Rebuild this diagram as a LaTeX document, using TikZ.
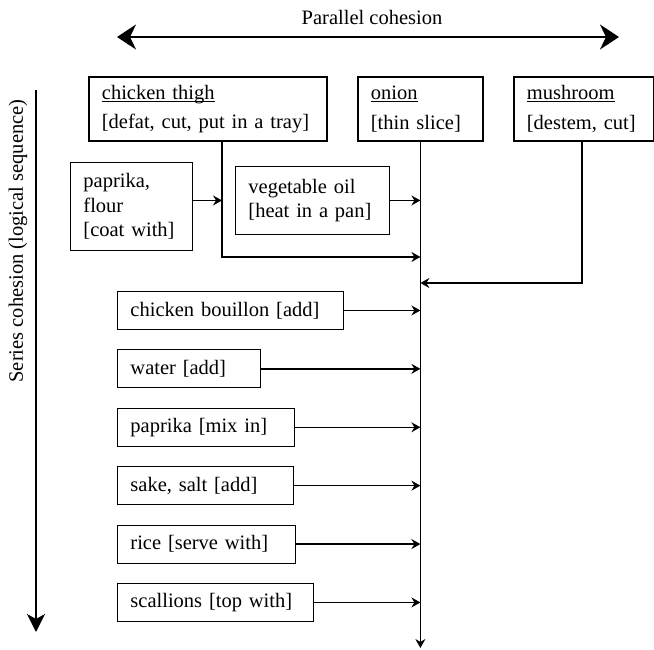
\documentclass[tikz,border=0pt]{standalone}
\usepackage{fontspec}
\setmainfont{Liberation Serif}
\usepackage{tikz}
\usetikzlibrary{arrows.meta, positioning}

\newcommand{\ingname}[1]{\setbox0\hbox{#1}\rlap{\rule[-2.6pt]{\wd0}{0.9pt}}\box0}

\begin{document}
\begin{tikzpicture}[
        x=1pt, y=-1pt,
        font=\fontsize{20.5}{24.5}\selectfont,
        ingredient/.style={rectangle, draw=black, line width=1.8pt, inner xsep=13pt, minimum height=64pt, align=left, anchor=north west},
        extra/.style={rectangle, draw=black, line width=0.9pt, inner xsep=13pt, align=left, anchor=north west},
        stepbox/.style={rectangle, draw=black, line width=0.9pt, inner xsep=13pt, minimum height=38pt, align=left},
        stacked/.style={below=19.5pt of #1.south west, anchor=north west},
        link/.style={-{Stealth[length=9pt, width=10pt, inset=3pt]}, line width=1.3pt},
        axis/.style={line width=1.8pt},
    ]
        \useasboundingbox (0,0) rectangle (654,650);

        % Cohesion axes
        \coordinate (parL) at (117,37);
        \coordinate (parR) at (619,37);
        \node (partitle) at (372,17) {Parallel cohesion};
        \draw[axis, {Stealth[length=19pt, width=25pt, inset=6pt]}-{Stealth[length=19pt, width=25pt, inset=6pt]}] (parL) -- (parR);

        \coordinate (serT) at (36,90);
        \coordinate (serB) at (36,632);
        \node[rotate=90] (sertitle) at (18,241) {Series cohesion (logical sequence)};
        \draw[axis, -{Stealth[length=18pt, width=18pt, inset=5pt]}] (serT) -- (serB);

        % Main ingredients
        \node[ingredient, text width=212pt] (thigh) at (88,76) {\ingname{chicken thigh}\\[5pt]{}[defat, cut, put in a tray]};
        \node[ingredient, text width=99pt] (onion) at (357,76) {\ingname{onion}\\[5pt]{}[thin slice]};
        \node[ingredient, text width=114pt] (mush) at (513,76) {\ingname{mushroom}\\[5pt]{}[destem, cut]};

        % Side ingredients
        \node[extra, text width=96pt, minimum height=88pt] (coat) at (70,162) {paprika,\\flour\\{}[coat with]};
        \node[extra, text width=128pt, minimum height=68pt] (oil) at (235,166) {vegetable oil\\{}[heat in a pan]};

        % Steps
        \node[stepbox, anchor=north west, text width=200pt] (bouillon) at (117,291) {chicken bouillon [add]};
        \node[stepbox, stacked=bouillon, text width=117pt] (water) {water [add]};
        \node[stepbox, stacked=water, text width=151pt] (mixin) {paprika [mix in]};
        \node[stepbox, stacked=mixin, text width=150pt] (sake) {sake, salt [add]};
        \node[stepbox, stacked=sake, text width=152pt] (rice) {rice [serve with]};
        \node[stepbox, stacked=rice, text width=170pt] (scallion) {scallions [top with]};

        % Connectors
        \coordinate (thighbend) at (222,257);
        \coordinate (mushbend) at (582,283);
        \coordinate (finish) at (0,648);
        \draw[link] (onion.south) -- (onion.south |- finish);
        \draw[link] (thigh.south -| thighbend) |- (onion.south |- thighbend);
        \draw[link] (coat.east |- oil.east) -- (oil.east -| thighbend);
        \draw[link] (oil.east) -- (oil.east -| onion.south);
        \draw[link] (mush.south -| mushbend) |- (onion.south |- mushbend);
        \foreach \n in {bouillon, water, mixin, sake, rice, scallion}
            \draw[link] (\n.east) -- (\n.east -| onion.south);
    \end{tikzpicture}
\end{document}
